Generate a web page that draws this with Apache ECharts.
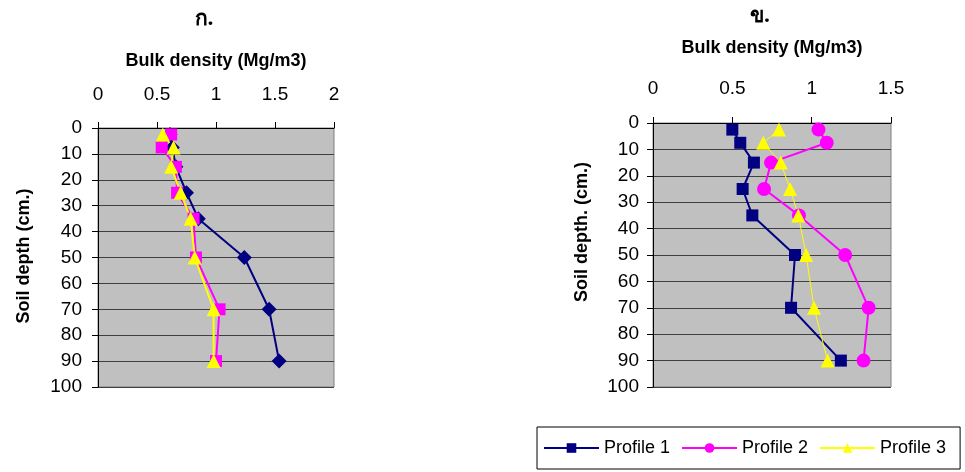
<!DOCTYPE html>
<html><head><meta charset="utf-8">
<script src="https://cdn.jsdelivr.net/npm/echarts@6/dist/echarts.min.js"></script>
<style>html,body{margin:0;padding:0;background:#fff}#c{width:965px;height:472px}</style>
</head><body><div id="c"></div>
<script>
const depths = [2.5, 7.5, 15, 25, 35, 50, 70, 90];
const seriesNames = ['Profile 1', 'Profile 2', 'Profile 3'];
// Chart ก.
const leftP1 = [0.61, 0.63, 0.66, 0.75, 0.85, 1.24, 1.45, 1.535];
const leftP2 = [0.62, 0.54, 0.66, 0.67, 0.81, 0.83, 1.03, 1.0];
const leftP3 = [0.55, 0.64, 0.62, 0.70, 0.785, 0.82, 0.98, 0.98];
// Chart ข.
const rightP1 = [0.50, 0.55, 0.636, 0.565, 0.626, 0.895, 0.87, 1.184];
const rightP2 = [1.043, 1.095, 0.744, 0.70, 0.92, 1.211, 1.359, 1.327];
const rightP3 = [0.794, 0.695, 0.805, 0.864, 0.916, 0.965, 1.015, 1.10];
const leftTicks = {min: 0, max: 2, interval: 0.5};
const rightTicks = {min: 0, max: 1.5, interval: 0.5};
const depthTicks = {min: 0, max: 100, interval: 10};
const titles = ['ก.', 'ข.'];
const xName = 'Bulk density (Mg/m3)';
const yNames = ['Soil depth (cm.)', 'Soil depth. (cm.)'];

const FONT = '"Liberation Sans", Arial, sans-serif';
const pairs = (xs) => xs.map((v, i) => [v, depths[i]]);

function xAx(gi, t, nameGap, margin) {
  return {
    gridIndex: gi, type: 'value', position: 'top', min: t.min, max: t.max, interval: t.interval,
    name: xName, nameLocation: 'middle', nameGap: nameGap,
    nameTextStyle: {fontFamily: FONT, fontWeight: 'bold', fontSize: 18, color: '#000'},
    axisLine: {show: true, lineStyle: {color: '#000', width: 1}},
    axisTick: {show: true, length: 6, lineStyle: {color: '#000'}},
    axisLabel: {fontFamily: FONT, fontSize: 19, color: '#000', margin: margin},
    splitLine: {show: false}
  };
}
function yAx(gi, margin) {
  return {
    gridIndex: gi, type: 'value', inverse: true, min: depthTicks.min, max: depthTicks.max, interval: depthTicks.interval,
    axisLine: {show: true, lineStyle: {color: '#000', width: 1}},
    axisTick: {show: true, length: 6, lineStyle: {color: '#000'}},
    axisLabel: {fontFamily: FONT, fontSize: 19, color: '#000', margin: margin},
    splitLine: {show: true, lineStyle: {color: '#404040', width: 1}}
  };
}
function ser(name, xi, data, color, symbol, size, lw) {
  return {
    name: name, type: 'line', xAxisIndex: xi, yAxisIndex: xi, data: pairs(data),
    symbol: symbol, symbolSize: size, showSymbol: true,
    lineStyle: {color: color, width: lw}, itemStyle: {color: color},
    animation: false
  };
}
function vText(text, x, y) {
  return {
    type: 'text', x: x, y: y, rotation: Math.PI / 2,
    style: {text: text, fill: '#000', font: 'bold 18px ' + FONT, align: 'center', verticalAlign: 'middle'}
  };
}

const chart = echarts.init(document.getElementById('c'));
chart.setOption({
  backgroundColor: '#fff',
  animation: false,
  title: [
    {text: titles[0], left: 199, top: 4, textAlign: 'center', textStyle: {fontFamily: '"Noto Sans", sans-serif', fontWeight: 'bold', fontSize: 21, color: '#000'}},
    {text: titles[1], left: 755, top: 1, textAlign: 'center', textStyle: {fontFamily: '"Noto Sans", sans-serif', fontWeight: 'bold', fontSize: 21, color: '#000'}}
  ],
  graphic: [vText(yNames[0], 24, 256), vText(yNames[1], 582, 232)],
  grid: [
    {left: 98, top: 128, width: 236, height: 259, show: true, backgroundColor: '#c0c0c0', borderColor: '#808080', borderWidth: 1},
    {left: 653, top: 123, width: 238, height: 264, show: true, backgroundColor: '#c0c0c0', borderColor: '#808080', borderWidth: 1}
  ],
  xAxis: [xAx(0, leftTicks, 58, 24), xAx(1, rightTicks, 66, 25)],
  yAxis: [yAx(0, 16), yAx(1, 14)],
  legend: {
    show: true, left: 537, top: 427, width: 440, orient: 'horizontal',
    padding: [12, 14, 12, 6],
    borderColor: '#000', borderWidth: 1, backgroundColor: '#fff',
    itemWidth: 55, itemHeight: 12, itemGap: 11,
    textStyle: {fontFamily: FONT, fontSize: 18, color: '#000'},
    data: seriesNames
  },
  series: [
    ser(seriesNames[0], 1, rightP1, '#000080', 'rect', 12, 2),
    ser(seriesNames[1], 1, rightP2, '#ff00ff', 'circle', 14, 2),
    ser(seriesNames[2], 1, rightP3, '#ffff00', 'triangle', 14, 1),
    ser(seriesNames[0], 0, leftP1, '#000080', 'diamond', 15, 2),
    ser(seriesNames[1], 0, leftP2, '#ff00ff', 'rect', 12, 2),
    ser(seriesNames[2], 0, leftP3, '#ffff00', 'triangle', 14, 2)
  ]
});
</script>
</body></html>
